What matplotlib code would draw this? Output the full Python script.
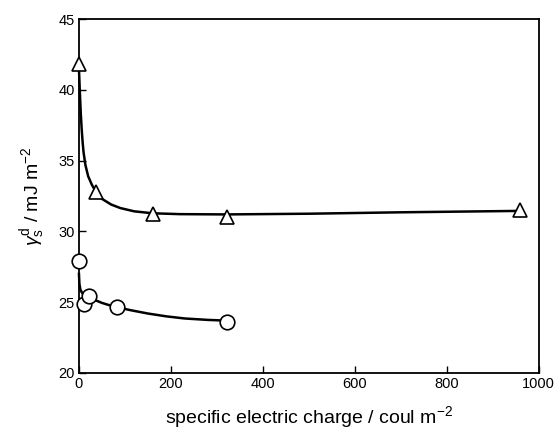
import matplotlib
matplotlib.use("Agg")
import matplotlib.pyplot as plt

plt.rcParams['font.family'] = ['Liberation Sans', 'DejaVu Sans']
plt.rcParams['mathtext.fontset'] = 'custom'
plt.rcParams['mathtext.rm'] = 'Liberation Sans'
plt.rcParams['mathtext.it'] = 'Liberation Sans:italic'

# measured points
tri_x = [0, 37, 161, 321, 960]
tri_y = [41.8, 32.8, 31.2, 31.05, 31.5]
circ_x = [0, 11, 22, 83, 322]
circ_y = [27.9, 24.9, 25.45, 24.65, 23.6]

# fitted curves
tri_curve_x = [0, 2, 4, 6, 8, 10, 14, 20, 28, 37, 50, 70, 90, 120, 160, 220, 320, 500, 700, 960]
tri_curve_y = [41.5, 39.8, 38.3, 37.2, 36.3, 35.6, 34.7, 33.9, 33.3, 32.8, 32.3, 31.9, 31.65,
               31.42, 31.28, 31.22, 31.2, 31.25, 31.35, 31.45]
circ_curve_x = [0, 1, 3, 6, 10, 22, 35, 50, 65, 83, 110, 150, 190, 230, 280, 320]
circ_curve_y = [27.0, 26.3, 25.9, 25.7, 25.55, 25.35, 25.15, 24.95, 24.8, 24.65, 24.45, 24.2,
                24.0, 23.85, 23.75, 23.7]

xticks = [0, 200, 400, 600, 800, 1000]
yticks = [20, 25, 30, 35, 40, 45]

fig = plt.figure(figsize=(5.56, 4.33), dpi=100)
ax = fig.add_axes([0.142, 0.1386, 0.827, 0.8174])

ax.plot(tri_curve_x, tri_curve_y, color='black', lw=1.8, clip_on=False, zorder=2)
ax.plot(circ_curve_x, circ_curve_y, color='black', lw=1.8, clip_on=False, zorder=2)
ax.plot(tri_x, tri_y, linestyle='none', marker='^', markersize=10, markerfacecolor='white',
        markeredgecolor='black', markeredgewidth=1.2, clip_on=False, zorder=3)
ax.plot(circ_x, circ_y, linestyle='none', marker='o', markersize=10.5, markerfacecolor='white',
        markeredgecolor='black', markeredgewidth=1.2, clip_on=False, zorder=3)

ax.set_xlim(0, 1000)
ax.set_ylim(20, 45)
ax.set_xticks(xticks)
ax.set_yticks(yticks)
ax.tick_params(direction='in', length=5, width=1, labelsize=10.5, pad=3)
for s in ax.spines.values():
    s.set_linewidth(1.3)

ax.set_xlabel('specific electric charge / coul m$^{-2}$', fontsize=14, labelpad=9)
ax.set_ylabel(r'$\gamma_{\rm s}^{\rm d}$ / mJ m$^{-2}$', fontsize=14, labelpad=8)

fig.savefig('out.png', dpi=100)
